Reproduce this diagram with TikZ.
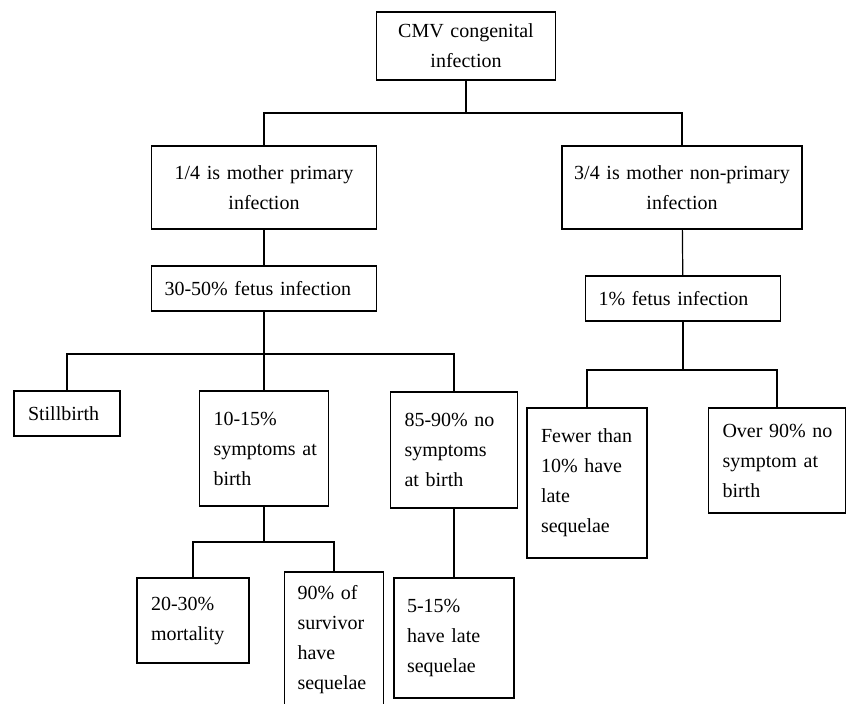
\documentclass[tikz,border=0pt]{standalone}
\usepackage{fontspec}
\setmainfont{Liberation Serif}
\usetikzlibrary{positioning}

\begin{document}
\begin{tikzpicture}[x=0.5pt,y=-0.5pt,line width=0.6pt,
  every node/.style={font=\fontsize{10}{15}\selectfont},
  box/.style={draw,rectangle,inner ysep=2pt,inner xsep=7pt,align=left},
  cbox/.style={box,align=center,inner xsep=2pt}]
\useasboundingbox (0,0) rectangle (847,703);
% top level
\node[cbox,text width=85.5pt,minimum height=34pt] (cmv) at (466,46) {\mbox{CMV congenital}\\infection};
\node[cbox,text width=108.5pt,minimum height=41.5pt] (prim) at (264,187.5) {\mbox{1/4 is mother primary}\\infection};
\node[cbox,text width=116pt,minimum height=41.5pt] (nonp) at (682,187.5) {\mbox{3/4 is mother non-primary}\\infection};
\node[box,inner xsep=6.5pt,text width=99.5pt,minimum height=22.5pt] (fet1) at (264,288.5) {\mbox{30-50\% fetus infection}};
\node[box,inner xsep=6.5pt,text width=84.5pt,minimum height=22.5pt] (fet2) at (683,298.5) {\mbox{1\% fetus infection}};
% primary branch
\node[box,text width=39pt,minimum height=22.5pt] (still) at (67,413.5) {Stillbirth};
\node[box,text width=50.5pt,minimum height=57.5pt] (symp) at (264,448.5) {10-15\%\\\mbox{symptoms at}\\birth};
\node[box,text width=49.5pt,minimum height=58pt] (nosymp) at (454,450) {\mbox{85-90\% no}\\symptoms\\\mbox{at birth}};
\node[box,text width=42pt,minimum height=42.5pt] (mort) at (193,620.5) {20-30\%\\mortality};
\node[box,inner xsep=6.5pt,text width=36.5pt,minimum height=68pt] (surv) at (334,640) {\mbox{90\% of}\\survivor\\have\\sequelae};
\node[box,inner xsep=6.5pt,text width=47pt,minimum height=60pt] (late) at (454,638) {5-15\%\\\mbox{have late}\\sequelae};
% non-primary branch
\node[box,text width=46pt,minimum height=75pt] (fewer) at (587,483) {\mbox{Fewer than}\\\mbox{10\% have}\\late\\sequelae};
\node[box,text width=54.5pt,minimum height=52.5pt] (over) at (777,460.5) {\mbox{Over 90\% no}\\\mbox{symptom at}\\birth};
% junctions
\coordinate (j0) at (466,113);
\coordinate (j1) at (264,354);
\coordinate (j2) at (264,542);
\coordinate (j3) at (683,370);
\draw (cmv) -- (j0);
\draw (fet1) -- (j1) -- (symp);
\draw (symp) -- (j2);
\draw (fet2) -- (j3);
\foreach \a/\b in {j0/prim,j0/nonp,j1/still,j1/nosymp,j2/mort,j2/surv,j3/fewer,j3/over}
  \draw (\a) -| (\b);
\foreach \a/\b in {prim/fet1,nonp/fet2,nosymp/late} \draw (\a) -- (\b);
\end{tikzpicture}
\end{document}
